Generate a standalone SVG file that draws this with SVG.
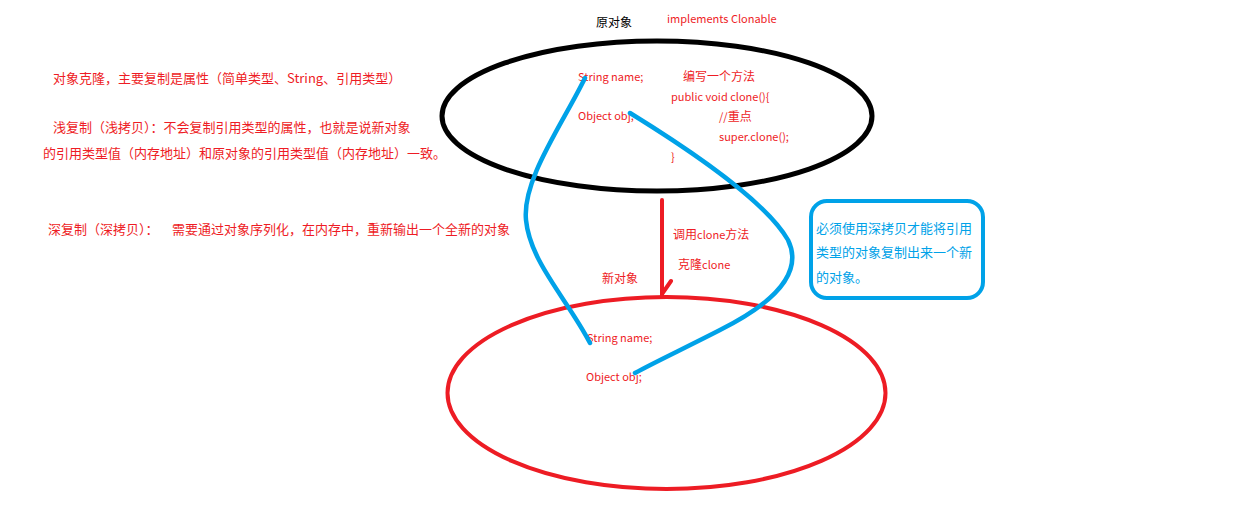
<svg xmlns="http://www.w3.org/2000/svg" width="1238" height="525" viewBox="0 0 1238 525">
<style>
text{font-family:"Noto Sans CJK SC","Microsoft YaHei",sans-serif;font-size:12px;fill:#ee1c25}
.s,.s tspan{font-size:11px}
.l{font-size:13px}
.k{fill:#000}
.b{fill:#00a2e8;font-size:13px}
.blue{fill:none;stroke:#00a2e8;stroke-width:4.5;stroke-linecap:round}
</style>
<rect width="1238" height="525" fill="#fff"/>
<g id="notes">
<text class="l" x="53" y="83">对象克隆，主要复制是属性（简单类型、String、引用类型）</text>
<text class="l" x="53" y="132">浅复制（浅拷贝）：不会复制引用类型的属性，也就是说新对象</text>
<text class="l" x="43" y="158">的引用类型值（内存地址）和原对象的引用类型值（内存地址）一致。</text>
<text class="l" x="48" y="234">深复制（深拷贝）：</text>
<text class="l" x="172" y="234">需要通过对象序列化，在内存中，重新输出一个全新的对象</text>
</g>
<g id="original">
<ellipse cx="657" cy="116" rx="215" ry="75" fill="none" stroke="#000" stroke-width="5"/>
<text class="k" x="596" y="27">原对象</text>
<text class="s" x="667" y="23">implements Clonable</text>
<text class="s" x="578" y="81">String name;</text>
<text x="683" y="81">编写一个方法</text>
<text class="s" x="671" y="101">public void clone(){</text>
<text class="s" x="578" y="120">Object obj;</text>
<text x="719" y="121"><tspan font-size="11">//</tspan>重点</text>
<text class="s" x="719" y="141">super.clone();</text>
<text class="s" x="671" y="161">}</text>
</g>
<g id="copy">
<ellipse cx="666.5" cy="393" rx="219" ry="96" fill="none" stroke="#ed1c24" stroke-width="4"/>
<text x="602" y="283">新对象</text>
<text class="s" x="587" y="342">String name;</text>
<text class="s" x="586" y="381">Object obj;</text>
</g>
<g id="note">
<rect x="811" y="201" width="172" height="97" rx="16" fill="none" stroke="#00a2e8" stroke-width="4"/>
<text class="b" x="816" y="233">必须使用深拷贝才能将引用</text>
<text class="b" x="816" y="257">类型的对象复制出来一个新</text>
<text class="b" x="816" y="282">的对象。</text>
</g>
<g id="connectors">
<path d="M662,200 L662,296 M662,294 L671,281" fill="none" stroke="#ed1c24" stroke-width="4" stroke-linecap="round"/>
<text x="673" y="239">调用<tspan font-size="11">clone</tspan>方法</text>
<text x="678" y="269">克隆<tspan font-size="11">clone</tspan></text>
<path class="blue" d="M585,78 C562,125 522,180 526,220 C530,262 568,300 590,343"/>
<path class="blue" d="M630,113 C690,150 765,200 788,240 C805,275 770,305 720,330 C685,348 655,362 635,373"/>
</g>
</svg>
